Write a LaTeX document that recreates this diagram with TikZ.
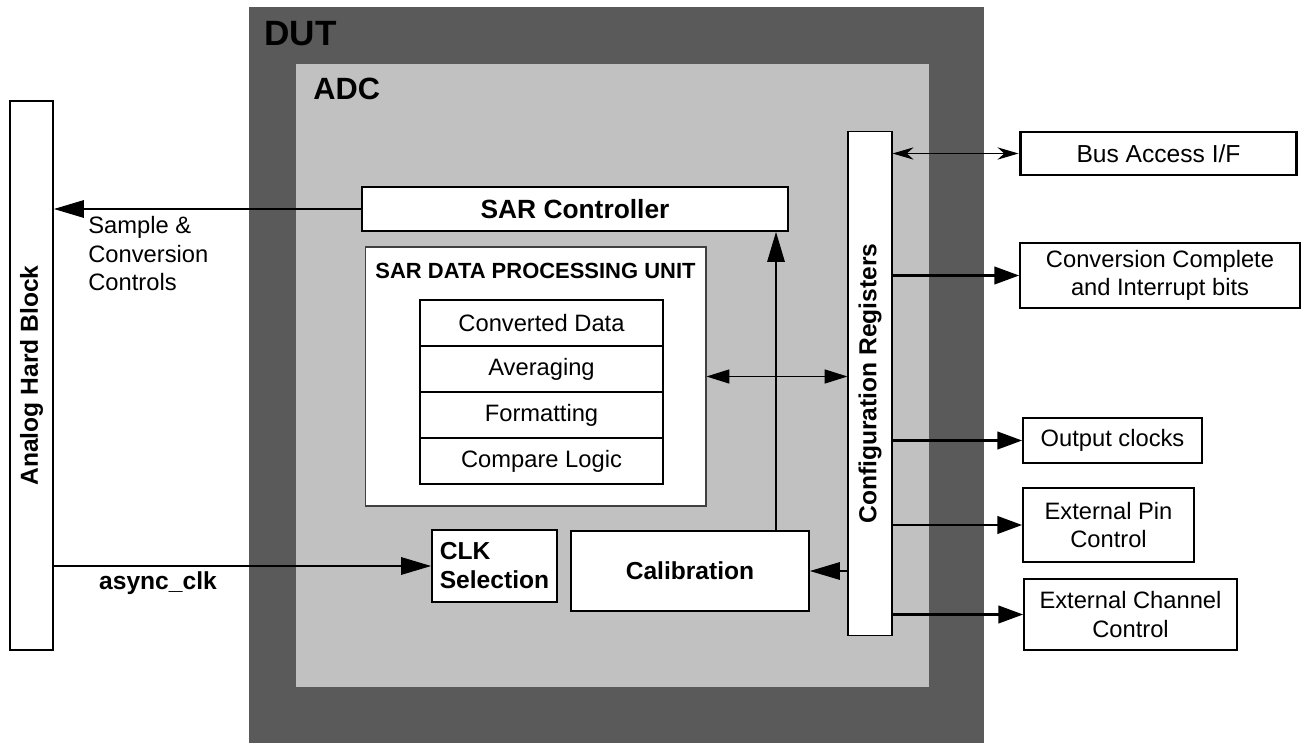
\documentclass[tikz,border=0pt]{standalone}
\usepackage{fontspec}
\setmainfont{Liberation Sans}
\usetikzlibrary{arrows.meta, positioning, calc}
\definecolor{cdut}{HTML}{5A5A5A}
\definecolor{cadc}{HTML}{C1C1C1}

\begin{document}
\begin{tikzpicture}[x=0.02cm, y=-0.02cm,
  box/.style={draw, fill=white, line width=1.1pt, inner sep=2pt, align=center,
              font=\fontsize{13.5}{16.2}\selectfont},
  bbox/.style={box, font=\fontsize{14}{16.5}\selectfont\bfseries},
  stackbox/.style={box, minimum width=4.86cm, minimum height=0.92cm, outer sep=0pt},
  arr/.style={-{Triangle[length=17pt, width=10pt]}, line width=0.6pt},
  fatarr/.style={-{Triangle[length=14pt, width=10pt]}, line width=1.2pt},
  busarr/.style={{Stealth[length=12pt, width=7pt]}-{Stealth[length=12pt, width=7pt]}, line width=0.6pt},
  dblarr/.style={{Triangle[length=13pt, width=8pt]}-{Triangle[length=13pt, width=8pt]}, line width=0.6pt},
  lbl/.style={font=\fontsize{13.5}{16.2}\selectfont, align=left, inner sep=0pt},
  title/.style={font=\fontsize{#1}{#1}\selectfont\bfseries, inner sep=0pt, anchor=base west}
]
\useasboundingbox (0,0) rectangle (1301,743);

% DUT and ADC areas
\fill[cdut] (249,7) rectangle (984,743);
\fill[cadc] (296,64) rectangle (929,687);
\node[title=20]   (dutlbl) at (264,46)  {DUT};
\node[title=17.5] (adclbl) at (313,100) {ADC};

% rotated blocks: .south is the right side, .north the left side
\node[bbox, rotate=90, minimum width=10.98cm, minimum height=0.86cm] (analog) at (31.5,375.5) {Analog Hard Block};
\node[bbox, rotate=90, line width=0.6pt, minimum width=10.1cm, minimum height=0.88cm] (config) at (870,383.5) {Configuration Registers};

\node[bbox, font=\fontsize{15}{18}\selectfont\bfseries, minimum width=8.52cm, minimum height=0.88cm] (sarctl) at (575,209) {SAR Controller};

\node[box, line width=0.6pt, draw=black!75, minimum width=6.82cm, minimum height=5.18cm] (dpu) at (535.5,376.5) {};
\node[font=\fontsize{12.5}{15}\selectfont\bfseries] (dputitle) at (535.5,271) {SAR DATA PROCESSING UNIT};
\node[stackbox] (convdata) at (541.5,323) {Converted Data};
\node[stackbox, below=0pt of convdata] (avg)   {Averaging};
\node[stackbox, below=0pt of avg]      (fmt)   {Formatting};
\node[stackbox, below=0pt of fmt]      (cmplg) {Compare Logic};

\node[bbox, align=left, minimum width=2.5cm, minimum height=1.44cm] (clksel) at (494.5,566) {CLK\\Selection};
\node[bbox, minimum width=4.76cm, minimum height=1.6cm] (calib) at (690,571) {Calibration};

% outside blocks
\node[box, line width=1.7pt, font=\fontsize{14}{16.8}\selectfont, minimum width=5.54cm, minimum height=0.86cm] (bus) at (1158.5,153.5) {Bus Access I/F};
\node[box, minimum width=5.6cm, minimum height=1.3cm]  (conv)   at (1160,275.5)  {Conversion Complete\\and Interrupt bits};
\node[box, minimum width=3.58cm, minimum height=0.9cm] (outclk) at (1112.5,440.5) {Output clocks};
\node[box, minimum width=3.42cm, minimum height=1.48cm] (extpin) at (1108.5,525)  {External Pin\\Control};
\node[box, minimum width=4.26cm, minimum height=1.42cm] (extch)  at (1130.5,614.5) {External Channel\\Control};

% connectors
\draw[arr] (sarctl.west) -- (sarctl.west -| analog.south);
\node[lbl, anchor=north west] (samplelbl) at (88,216) {Sample \&\\Conversion\\Controls};
\draw[arr] (analog.south |- clksel.west) -- (clksel.west);
\node[lbl, font=\fontsize{14}{16.5}\selectfont\bfseries] (asynclbl) at (158,583) {async\_clk};

\coordinate (vup) at (776,0);
\draw[arr] (calib.north -| vup) -- (sarctl.south -| vup);
\draw[dblarr] (dpu.east) -- (dpu.east -| config.north);
\draw[arr] (config.north |- calib.east) -- (calib.east);

\draw[busarr] (config.south |- bus.west) -- (bus.west);
\draw[fatarr] (config.south |- conv.west) -- (conv.west);
\draw[fatarr] (config.south |- outclk.west) -- (outclk.west);
\draw[fatarr] (config.south |- extpin.west) -- (extpin.west);
\draw[fatarr] (config.south |- extch.west) -- (extch.west);
\end{tikzpicture}
\end{document}
